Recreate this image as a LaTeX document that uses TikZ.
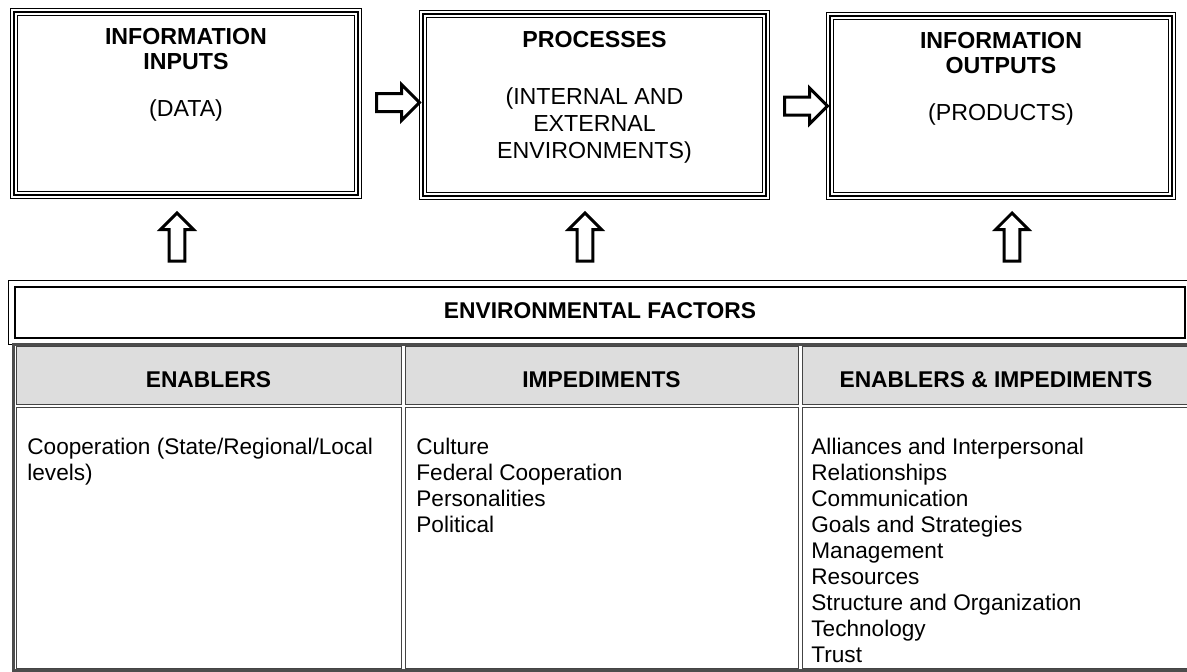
\documentclass[tikz,border=0pt]{standalone}
\usepackage{fontspec}
\setmainfont{Liberation Sans}
\usepackage{tikz}
\usetikzlibrary{positioning, calc, shapes.arrows}

\definecolor{hdrgray}{HTML}{DDDDDD}
\definecolor{gridgray}{HTML}{444444}

\tikzset{
  tribox/.style={draw=black, line width=1pt, outer sep=0pt, inner sep=0pt,
    preaction={draw, line width=3.7pt},
    preaction={draw, white, line width=2.7pt}},
  envbox/.style={draw=black, line width=1.25pt, fill=white, outer sep=0pt, inner sep=0pt,
    preaction={draw, line width=7pt},
    preaction={draw, white, line width=6pt}},
  boxtext/.style={inner sep=0pt, align=center, font=\fontsize{11.6pt}{12.5pt}\selectfont},
  hcell/.style={draw=gridgray, line width=0.5pt, fill=hdrgray, outer sep=0pt, inner sep=0pt,
    minimum height=29pt},
  bcell/.style={draw=gridgray, line width=0.5pt, outer sep=0pt, inner sep=0pt,
    minimum height=130.5pt},
  hdrtext/.style={inner sep=0pt, font=\fontsize{11.4pt}{13pt}\selectfont\bfseries},
  bodytext/.style={anchor=north west, inner sep=0pt, align=left,
    font=\fontsize{11.3pt}{13pt}\selectfont},
  rarrow/.style={single arrow, draw=black, line width=1.5pt, fill=white,
    inner sep=3.75pt, minimum height=21.5pt, single arrow head extend=4.5pt},
  uarrow/.style={single arrow, shape border rotate=90, draw=black, line width=1.5pt,
    fill=white, inner sep=3.15pt, minimum height=24pt, single arrow head extend=4.35pt}
}

\begin{document}
\begin{tikzpicture}[x=0.5pt, y=-0.5pt]
    \useasboundingbox (0,0) rectangle (1187,671);

    % Inputs, processes, outputs
    \node[tribox, minimum width=172pt, minimum height=91.5pt] (in1) at (186,103.5) {};
    \node[tribox, minimum width=171.5pt, minimum height=91pt] (proc) at (594.5,105) {};
    \node[tribox, minimum width=171pt, minimum height=90pt] (out1) at (1001,106) {};

    \node[boxtext, below=8pt of in1.north] (in1txt)
        {\textbf{INFORMATION}\\\textbf{INPUTS}\\[11pt](DATA)};
    \node[boxtext, below=8.5pt of proc.north] (proctxt)
        {\textbf{PROCESSES}\\[16pt](INTERNAL AND\\[1pt]EXTERNAL\\[1pt]ENVIRONMENTS)};
    \node[boxtext, below=8pt of out1.north] (out1txt)
        {\textbf{INFORMATION}\\\textbf{OUTPUTS}\\[11pt](PRODUCTS)};

    % Flow arrows
    \node[rarrow] (a12) at (393.5,102.5) {};
    \node[rarrow] (a23) at (801.5,106) {};

    % Environment bar
    \node[envbox, minimum width=585pt, minimum height=25.5pt] (env) at (600,312.5) {};
    \node[hdrtext] (envtxt) at ([yshift=1pt]env.center) {ENVIRONMENTAL FACTORS};

    \node[uarrow] (u1) at (177,241) {};
    \node[uarrow] (u2) at (585,241) {};
    \node[uarrow] (u3) at (1012,241) {};

    % Factor table
    \node[hcell, minimum width=192.5pt, anchor=north west] (h1) at (16,346) {};
    \node[hcell, minimum width=196.5pt, right=2pt of h1] (h2) {};
    \node[hcell, minimum width=194pt, right=2pt of h2] (h3) {};
    \node[bcell, minimum width=192.5pt, below=1.5pt of h1] (b1) {};
    \node[bcell, minimum width=196.5pt, below=1.5pt of h2] (b2) {};
    \node[bcell, minimum width=194pt, below=1.5pt of h3] (b3) {};
    \draw[line width=1.5pt, gray!60!black] ($(h1.north west)+(-2.5,-2)$) rectangle ($(b3.south east)+(2.5,2)$);

    \node[hdrtext] (h1txt) at ([yshift=-2.5pt]h1.center) {ENABLERS};
    \node[hdrtext] (h2txt) at ([yshift=-2.5pt]h2.center) {IMPEDIMENTS};
    \node[hdrtext] (h3txt) at ([yshift=-2.5pt]h3.center) {ENABLERS \& IMPEDIMENTS};

    \node[bodytext] (b1txt) at ([shift={(11,31)}]b1.north west)
        {Cooperation (State/Regional/Local\\levels)};
    \node[bodytext] (b2txt) at ([shift={(11,31)}]b2.north west)
        {Culture\\Federal Cooperation\\Personalities\\Political};
    \node[bodytext] (b3txt) at ([shift={(9,31)}]b3.north west)
        {Alliances and Interpersonal\\Relationships\\Communication\\Goals and Strategies\\Management\\Resources\\Structure and Organization\\Technology\\Trust};
\end{tikzpicture}
\end{document}
